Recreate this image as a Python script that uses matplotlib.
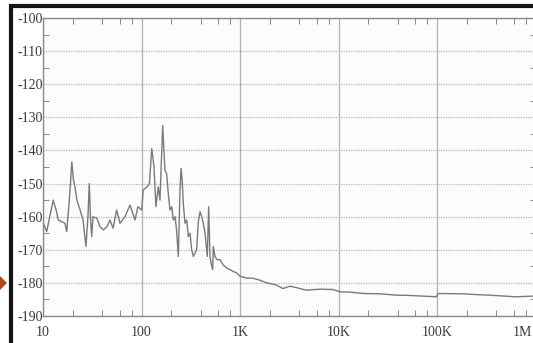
import matplotlib
matplotlib.use("Agg")
import matplotlib.pyplot as plt
import matplotlib.transforms as mtransforms
from matplotlib.patches import Rectangle, Polygon
from matplotlib.ticker import FixedLocator, LogLocator, MultipleLocator, NullFormatter

# Спектр шума
freq_hz = [10.1, 10.9, 12.7, 13.6, 14.3, 15.5, 16.7, 17.4, 18.4, 19.0, 19.6, 20.4,
           21.1, 22.1, 23.8, 25.5, 27.3, 28.6, 29.5, 30.3, 31.2, 32.2, 35.3, 37.9,
           41, 44.7, 47.9, 51.4, 56, 60.5, 68, 76.4, 85.9, 92, 100.5, 104, 113.7,
           120.5, 127, 134, 140, 148, 154, 164, 173, 180, 187, 194.5, 203, 210,
           219, 227, 236.5, 246, 252, 259, 265.6, 276.6, 287.7, 298.7, 310.6,
           323.4, 335.6, 363, 377.5, 392.6, 408, 423.9, 441.3, 451.5, 465.6, 481,
           495.8, 507.7, 528, 535.5, 557.4, 583.6, 626.3, 676.4, 732.5, 790.9,
           848.8, 925, 1000, 1151, 1355, 1596, 1867, 2319, 2733, 3219, 3705, 4679,
           6486, 8790, 10280, 13090, 17740, 26380, 38630, 53200, 72100, 98400,
           102300, 183600, 273400, 342800, 490000, 634000, 943000]
level_db = [-162, -164.5, -155, -158, -161, -161.5, -162, -164.5, -156, -150, -143.5, -149,
            -151, -155, -158, -161, -169, -160, -150, -160, -166, -160, -160.5, -163,
            -164, -163, -161, -163.5, -158, -162, -160, -156.5, -161, -157, -158, -152, -151,
            -150, -139.4, -145, -157, -151, -155, -132.5, -146, -147, -153, -158, -157, -161,
            -160, -164, -172, -152, -145.4, -149, -156, -162, -161, -166, -165,
            -170, -172, -170, -161.5, -158.5, -160, -162, -165, -168, -172, -157,
            -172, -174, -176, -169, -172, -173, -173, -174.6, -175.5, -176,
            -176.5, -177, -178, -178.5, -178.6, -179.2, -180, -180.6, -181.7, -181, -181.4, -182.2,
            -181.9, -182, -182.7, -182.8, -183.2, -183.3, -183.7, -183.8, -184, -184.2,
            -183.2, -183.3, -183.6, -183.7, -184, -184.2, -184]

x_ticks = [10, 100, 1e3, 1e4, 1e5, 1e6]
x_labels = ["10", "100", "1K", "10K", "100K", "1M"]
y_ticks = list(range(-190, -99, 10))

plt.rcParams["font.family"] = ["Liberation Serif", "DejaVu Serif"]

W, H = 533, 343
fig = plt.figure(figsize=(W / 100, H / 100), dpi=100)

# оси: слева 43 px, сверху 18 px, снизу 316 px, 1M уходит за край
ax = fig.add_axes([43 / W, 1 - 316 / H, 492.5 / W, 298 / H])
ax.set_facecolor("#fbfcfd")

ax.plot(freq_hz, level_db, color="#7a7a7a", lw=1.0)

ax.set_xscale("log")
ax.set_xlim(10, 1e6)
ax.set_ylim(-190, -100)

ax.xaxis.set_major_locator(FixedLocator(x_ticks))
ax.set_xticklabels(x_labels)
ax.xaxis.set_minor_locator(LogLocator(base=10, subs=[2, 4, 6, 8]))
ax.xaxis.set_minor_formatter(NullFormatter())
ax.set_yticks(y_ticks)
ax.set_yticklabels([str(v) for v in y_ticks])
ax.yaxis.set_minor_locator(MultipleLocator(5))

ax.grid(True, which="major", axis="x", color="#b0b0b0", lw=0.9)
ax.grid(True, which="major", axis="y", color="#b5b5b5", lw=0.9, linestyle=(0, (1, 1)))

ax.tick_params(axis="both", which="both", direction="in", colors="#777777",
               labelcolor="#3a3a3a", labelsize=10)
ax.tick_params(axis="x", which="major", length=0, pad=7)
ax.tick_params(axis="x", which="minor", length=4, top=True, bottom=True)
ax.tick_params(axis="y", which="major", length=0, pad=0)
ax.tick_params(axis="y", which="minor", length=4, left=True, right=True)

# последняя подпись "1M" сдвинута влево, чтобы не обрезалась
last = ax.get_xticklabels()[-1]
last.set_horizontalalignment("right")
last.set_transform(last.get_transform() + mtransforms.ScaledTranslation(-3 / 100, 0, fig.dpi_scale_trans))

for s in ax.spines.values():
    s.set_color("#8a8a8a")
    s.set_linewidth(1.0)

# чёрная рамка снимка и стрелка слева
fig.patches.append(Rectangle((11 / W, -0.2), 1.2, 1.2 - 6 / H, transform=fig.transFigure,
                             fill=False, ec="#151515", lw=3))
fig.patches.append(Polygon([(0, 1 - 276 / H), (7 / W, 1 - 283 / H), (0, 1 - 290 / H)],
                           closed=True, transform=fig.transFigure, fc="#b0481c", ec="none"))

fig.savefig("out.png", dpi=100)
